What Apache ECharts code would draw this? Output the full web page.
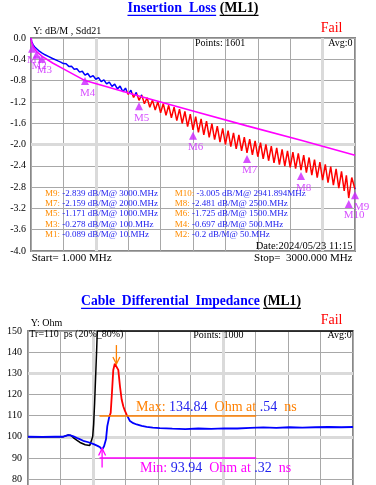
<!DOCTYPE html>
<html>
<head>
<meta charset="utf-8">
<script src="https://cdn.jsdelivr.net/npm/echarts@6/dist/echarts.min.js"></script>
<style>
html, body { margin: 0; padding: 0; background: #fff; overflow: hidden; }
#main { width: 376px; height: 520px; }
</style>
</head>
<body>
<div id="main"></div>
<script>
var chartDom = document.getElementById('main');
var myChart = echarts.init(chartDom);
var option;

const SERIF = '"Liberation Serif", "Times New Roman", serif';

// Sdd21 trace (MHz, dB/M)
const ilFreq = [
  1, 3, 6, 10, 20, 35, 50, 70, 100, 130,
  160, 200, 250, 275,
  300, 325, 350, 375, 400, 425, 450, 475, 500, 525,
  550, 575, 600, 625, 650, 675, 700, 725, 750, 775,
  800, 825, 850, 875, 900, 925, 950, 975, 1000, 1025,
  1050, 1075, 1100, 1125, 1150, 1175, 1200, 1225, 1250, 1275,
  1300, 1325, 1350, 1375, 1400, 1425, 1450, 1475, 1500, 1525,
  1550, 1575, 1600, 1625, 1650, 1675, 1700, 1725, 1750, 1775,
  1800, 1825, 1850, 1875, 1900, 1925, 1950, 1975, 2000, 2025,
  2050, 2075, 2100, 2125, 2150, 2175, 2200, 2225, 2250, 2275,
  2300, 2325, 2350, 2375, 2400, 2425, 2450, 2475, 2500, 2525,
  2550, 2575, 2600, 2625, 2650, 2675, 2700, 2725, 2750, 2775,
  2800, 2825, 2850, 2875, 2900,
  2920, 2941.894, 2970, 3000
];
const ilLoss = [
  0, -0.03, -0.065, -0.089, -0.13, -0.17, -0.2, -0.235, -0.278, -0.315,
  -0.345, -0.385, -0.43, -0.452,
  -0.48, -0.484, -0.533, -0.531, -0.585, -0.578, -0.641, -0.624, -0.697, -0.667,
  -0.736, -0.706, -0.775, -0.745, -0.819, -0.787, -0.863, -0.827, -0.909, -0.866,
  -0.955, -0.904, -1.008, -0.941, -1.06, -0.98, -1.116, -1.021, -1.171, -1.068,
  -1.236, -1.123, -1.3, -1.166, -1.353, -1.199, -1.405, -1.231, -1.453, -1.264,
  -1.5, -1.299, -1.553, -1.336, -1.605, -1.38, -1.665, -1.43, -1.725, -1.476,
  -1.773, -1.519, -1.82, -1.563, -1.865, -1.608, -1.91, -1.653, -1.955, -1.698,
  -2.0, -1.74, -2.04, -1.78, -2.08, -1.82, -2.12, -1.86, -2.159, -1.898,
  -2.195, -1.933, -2.23, -1.966, -2.268, -1.999, -2.305, -2.031, -2.343, -2.064,
  -2.38, -2.093, -2.405, -2.118, -2.43, -2.143, -2.455, -2.168, -2.481, -2.201,
  -2.528, -2.244, -2.575, -2.286, -2.623, -2.329, -2.67, -2.371, -2.718, -2.414,
  -2.765, -2.459, -2.818, -2.506, -2.87,
  -2.58, -3.005, -2.62, -2.839
];

// limit line
const limitFreq = [1, 5, 10, 25, 50, 100, 200, 300, 500, 750, 1000, 1500, 2000, 2500, 3000];
const limitLoss = [0, -0.07, -0.11, -0.18, -0.25, -0.34, -0.47, -0.58, -0.8, -0.945, -1.09, -1.37, -1.65, -1.92, -2.2];

// markers
const mkName = ['M1', 'M2', 'M3', 'M4', 'M5', 'M6', 'M7', 'M8', 'M9', 'M10'];
const mkFreq = [10, 50, 100, 500, 1000, 1500, 2000, 2500, 3000, 2941.894];
const mkLoss = [-0.089, -0.2, -0.278, -0.697, -1.171, -1.725, -2.159, -2.481, -2.839, -3.005];

// differential impedance (ns, Ohm)
const impTime = [
  -0.82, -0.6, -0.4, -0.28, -0.24, -0.2, -0.16, -0.12, -0.05, 0.03,
  0.11, 0.19, 0.25, 0.29, 0.32, 0.35, 0.38, 0.40, 0.43, 0.452,
  0.47, 0.492, 0.515, 0.54, 0.569, 0.595, 0.621, 0.646, 0.67, 0.698,
  0.749, 0.8, 0.852, 0.93, 1.006, 1.1, 1.21, 1.4, 1.6, 1.8,
  2.0, 2.2, 2.4, 2.6, 2.8, 3.0, 3.2, 3.4, 3.6, 3.8,
  4.0, 4.18
];
const impOhm = [
  100.0, 99.9, 100.0, 100.0, 100.4, 100.8, 100.6, 100.2, 99.2, 98.1,
  97.4, 96.5, 95.7, 95.0, 93.94, 95.5, 98.8, 105.0, 109.4, 111.3,
  120.0, 131.6, 134.5, 134.84, 131.6, 123.8, 117.6, 114.4, 112.3, 110.5,
  107.4, 106.4, 105.8, 105.1, 104.7, 104.3, 104.1, 103.8, 103.6, 103.9,
  103.7, 104.0, 103.9, 104.2, 104.4, 104.2, 104.5, 104.3, 104.5, 104.6,
  104.5, 104.6
];
// black trace
const refTime = [-0.82, -0.6, -0.4, -0.28, -0.24, -0.2, -0.16, -0.12, -0.06, -0.02,
  0.06, 0.13, 0.16, 0.175, 0.19, 0.205, 0.22, 0.235, 0.246, 4.18];
const refOhm = [100.0, 99.9, 100.0, 100.0, 100.4, 100.8, 100.6, 99.5, 98.2, 97.3,
  96.2, 95.9, 96.5, 100.0, 106.0, 116.0, 128.0, 140.0, 150.0, 150.0];

const maxLimit = 110;
const minLimit = 90;
const limitSpan = [0.28, 2.69];

// where the trace is under the limit -> red
const limitAt = (f) => {
  for (let i = 1; i < limitFreq.length; i++) {
    if (f <= limitFreq[i]) {
      const k = (f - limitFreq[i - 1]) / (limitFreq[i] - limitFreq[i - 1]);
      return limitLoss[i - 1] + k * (limitLoss[i] - limitLoss[i - 1]);
    }
  }
  return limitLoss[limitLoss.length - 1];
};
const failPieces = [];
let from = null;
for (let i = 1; i < ilFreq.length; i++) {
  const d0 = ilLoss[i - 1] - limitAt(ilFreq[i - 1]);
  const d1 = ilLoss[i] - limitAt(ilFreq[i]);
  if ((d0 >= 0) !== (d1 >= 0)) {
    const x = ilFreq[i - 1] + (ilFreq[i] - ilFreq[i - 1]) * d0 / (d0 - d1);
    if (d1 < 0) {
      from = x;
    } else {
      failPieces.push({ gte: from, lt: x, color: '#ff0000' });
      from = null;
    }
  }
}
if (from !== null) failPieces.push({ gte: from, lte: 3000, color: '#ff0000' });

const gridLine = { lineStyle: { color: '#a8a8a8', width: 1 } };
const lightLine = { color: '#dadada', width: 3, type: 'solid' };

option = {
  animation: false,
  textStyle: { fontFamily: SERIF },
  grid: [
    { left: 31, top: 38, width: 324, height: 213, show: true, borderColor: '#888', borderWidth: 2 },
    { left: 28, top: 331, width: 325, height: 169.2, show: true, borderColor: '#888', borderWidth: 2 }
  ],
  xAxis: [
    { gridIndex: 0, type: 'value', min: 0, max: 3000, interval: 300,
      axisLine: { show: false }, axisTick: { show: false }, axisLabel: { show: false }, splitLine: gridLine },
    { gridIndex: 1, type: 'value', min: 0, max: 10, interval: 1,
      axisLine: { show: false }, axisTick: { show: false }, axisLabel: { show: false }, splitLine: gridLine },
    { gridIndex: 1, type: 'value', min: -0.82, max: 4.18, show: false, splitLine: { show: false } }
  ],
  yAxis: [
    { gridIndex: 0, type: 'value', min: -4, max: 0, interval: 0.4,
      axisLine: { show: false }, axisTick: { show: false }, splitLine: gridLine,
      axisLabel: { formatter: (v) => v.toFixed(1), fontSize: 10, color: '#000', fontFamily: SERIF, margin: 5 } },
    { gridIndex: 1, type: 'value', min: 70, max: 150, interval: 10,
      axisLine: { show: false }, axisTick: { show: false }, splitLine: gridLine,
      axisLabel: { fontSize: 10, color: '#000', fontFamily: SERIF, margin: 6 } }
  ],
  visualMap: [
    { type: 'piecewise', show: false, seriesIndex: 0, dimension: 0,
      pieces: failPieces, outOfRange: { color: '#0000ff' } },
    { type: 'piecewise', show: false, seriesIndex: 5, dimension: 1,
      pieces: [{ gt: maxLimit, lte: 200, color: '#ff0000' }], outOfRange: { color: '#0000ff' } }
  ],
  series: [
    {
      type: 'line', xAxisIndex: 0, yAxisIndex: 0, showSymbol: false, silent: true,
      data: ilFreq.map((f, i) => [f, ilLoss[i]]),
      lineStyle: { width: 1.5 }
    },
    {
      type: 'line', xAxisIndex: 0, yAxisIndex: 0, showSymbol: false, silent: true,
      data: limitFreq.map((f, i) => [f, limitLoss[i]]),
      lineStyle: { width: 1.6, color: '#ff00ff' }, itemStyle: { color: '#ff00ff' },
      markLine: {
        silent: true, symbol: 'none', z: 1, label: { show: false }, lineStyle: lightLine,
        data: [{ xAxis: 600 }, { xAxis: 2700 }, { yAxis: -2 }]
      }
    },
    {
      type: 'scatter', xAxisIndex: 0, yAxisIndex: 0, silent: true, z: 5,
      symbol: 'triangle', symbolSize: [8, 8], symbolOffset: [0, 6],
      itemStyle: { color: '#cc22ff' },
      label: { show: true, position: [-1, 10], align: 'left', formatter: '{b}',
        color: '#cc22ff', fontSize: 11, fontFamily: SERIF },
      data: mkName.map((n, i) => {
        const d = { name: n, value: [mkFreq[i], mkLoss[i]] };
        if (n === 'M9') d.label = { offset: [4, 0] };
        return d;
      })
    },
    {
      type: 'line', xAxisIndex: 1, yAxisIndex: 1, showSymbol: false, silent: true,
      data: [[0, 70]], lineStyle: { opacity: 0 },
      markLine: {
        silent: true, symbol: 'none', z: 1, label: { show: false }, lineStyle: lightLine,
        data: [{ xAxis: 2 }, { xAxis: 6 }, { yAxis: 130 }, { yAxis: 100 }]
      }
    },
    {
      type: 'line', xAxisIndex: 2, yAxisIndex: 1, showSymbol: false, silent: true,
      data: refTime.map((t, i) => [t, refOhm[i]]),
      lineStyle: { width: 1.5, color: '#000' }, itemStyle: { color: '#000' }
    },
    {
      type: 'line', xAxisIndex: 2, yAxisIndex: 1, showSymbol: false, silent: true,
      data: impTime.map((t, i) => [t, impOhm[i]]),
      lineStyle: { width: 1.8 },
      markLine: {
        silent: true, symbol: 'none', label: { show: false },
        lineStyle: { width: 1.5, type: 'solid' },
        data: [
          [{ coord: [limitSpan[0], maxLimit], lineStyle: { color: '#ff8000', width: 1.5, type: 'solid' } },
           { coord: [limitSpan[1], maxLimit] }],
          [{ coord: [limitSpan[0], minLimit], lineStyle: { color: '#ff00ff', width: 1.5, type: 'solid' } },
           { coord: [limitSpan[1], minLimit] }]
        ]
      }
    }
  ]
};

myChart.setOption(option);

// ---- texts, underlines, arrows ----
const measure = document.createElement('canvas').getContext('2d');
function textW(str, font) {
  measure.font = font;
  return measure.measureText(str).width;
}
function txt(x, y, text, size, color, align) {
  return {
    type: 'text', x: x, y: y, z: 100, silent: true,
    style: {
      text: text, font: size + 'px ' + SERIF, fill: color,
      align: align || 'left', textAlign: align || 'left',
      verticalAlign: 'middle', textVerticalAlign: 'middle'
    }
  };
}
function rich(x, y, text, size, colors) {
  const r = {};
  Object.keys(colors).forEach((k) => { r[k] = { fill: colors[k], font: size + 'px ' + SERIF }; });
  const el = txt(x, y, text, size, '#000', 'left');
  el.style.rich = r;
  return el;
}
function hline(x1, x2, y, color, w) {
  return { type: 'line', z: 100, silent: true, shape: { x1: x1, y1: y, x2: x2, y2: y },
    style: { stroke: color, lineWidth: w || 1.3 } };
}
function titleEls(main, cx, y, size) {
  const font = 'bold ' + size + 'px ' + SERIF;
  const w1 = textW(main, font);
  const ws = textW(' ', font);
  const w2 = textW('(ML1)', font);
  const x0 = cx - (w1 + ws + w2) / 2;
  const el = txt(x0, y, '{a|' + main + '} {b|(ML1)}', size, '#000');
  el.style.font = font;
  el.style.rich = { a: { fill: '#0000ff', font: font }, b: { fill: '#000', font: font } };
  return [
    el,
    hline(x0, x0 + w1, y + 6.8, '#0000ff'),
    hline(x0 + w1 + ws, x0 + w1 + ws + w2, y + 6.8, '#000')
  ];
}
function fmtFreq(f) {
  return Number.isInteger(f) ? f + '.MHz' : f + 'MHz';
}

const els = [];
els.push(...titleEls('Insertion  Loss', 193, 8.5, 14));
els.push(txt(33.3, 31.5, 'Y: dB/M , Sdd21', 10, '#000'));
els.push(txt(320.7, 28.5, 'Fail', 14, '#ff0000'));
els.push(txt(195, 43.5, 'Points: 1601', 10, '#000'));
els.push(txt(352.5, 43.5, 'Avg:0', 10, '#000', 'right'));
// marker table, two columns
for (let r = 0; r < 5; r++) {
  const y = 193.3 + r * 10.4;
  [8 - 2 * r, 9 - 2 * r].forEach((m, c) => {
    const s = '{o|' + mkName[m] + ': }{b|' + mkLoss[m] + ' dB/M@ ' + fmtFreq(mkFreq[m]) + '}';
    els.push(rich(c === 0 ? 45 : 174.7, y, s, 9, { o: '#ff8c00', b: '#2222ee' }));
  });
}
els.push(txt(352.5, 246, 'Date:2024/05/23 11:15', 10.5, '#000', 'right'));
els.push(txt(31.7, 258.5, 'Start= 1.000 MHz', 11, '#000'));
els.push(txt(352.5, 258.5, 'Stop=  3000.000 MHz', 11, '#000', 'right'));

els.push(...titleEls('Cable  Differential  Impedance', 191, 301.5, 13.6));
els.push(txt(30.7, 323.5, 'Y: Ohm', 10, '#000'));
els.push(txt(320.7, 320.5, 'Fail', 14, '#ff0000'));
els.push(txt(29.3, 334.5, 'Tr=110  ps (20%_80%)', 10, '#000'));
els.push(txt(193.3, 335, 'Points: 1000', 10, '#000'));
els.push(txt(351.7, 335, 'Avg:0', 10, '#000', 'right'));

// max / min of the impedance trace
let iMax = 0, iMin = 0;
impOhm.forEach((v, i) => {
  if (v > impOhm[iMax]) iMax = i;
  if (v < impOhm[iMin]) iMin = i;
});
const fmtT = (t) => t.toFixed(2).replace(/^0/, '');
els.push(rich(136, 407, '{o|Max: }{b|' + impOhm[iMax].toFixed(2) + '}{o|  Ohm at }{b|' + fmtT(impTime[iMax]) + '}{o|  ns}',
  14, { o: '#ff8000', b: '#2222ee' }));
els.push(rich(140, 468, '{o|Min: }{b|' + impOhm[iMin].toFixed(2) + '}{o|  Ohm at }{b|' + fmtT(impTime[iMin]) + '}{o|  ns}',
  14, { o: '#ff00ff', b: '#2222ee' }));

const pMax = myChart.convertToPixel({ seriesIndex: 5 }, [impTime[iMax], impOhm[iMax]]);
const pMin = myChart.convertToPixel({ seriesIndex: 5 }, [impTime[iMin], impOhm[iMin]]);
function arrow(p, dir, color) {
  // dir = -1: arrow comes from above, +1: from below
  const x = p[0], tip = p[1] - dir * 1;
  return [
    { type: 'polyline', z: 100, silent: true, shape: { points: [[x, tip + dir * 19], [x, tip]] },
      style: { stroke: color, lineWidth: 1.3, fill: null } },
    { type: 'polyline', z: 100, silent: true, shape: { points: [[x - 3.5, tip + dir * 7], [x, tip], [x + 3.5, tip + dir * 7]] },
      style: { stroke: color, lineWidth: 1.3, fill: null } }
  ];
}
els.push(...arrow(pMax, -1, '#ff8000'));
els.push(...arrow(pMin, 1, '#ff00ff'));

myChart.setOption({ graphic: els });
</script>
</body>
</html>
